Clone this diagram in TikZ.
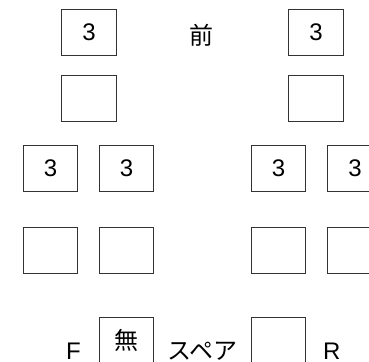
\documentclass[tikz,border=0pt]{standalone}
\usepackage{fontspec}
\setmainfont{Liberation Sans}
\newfontfamily\jpfont{Noto Sans CJK JP}
\begin{document}
\begin{tikzpicture}[x=1pt,y=-1pt,
  seat/.style={draw=black!80,line width=0.8pt,rectangle,minimum width=54.5pt,minimum height=46pt,inner sep=0pt,font=\fontsize{24pt}{28pt}\selectfont},
  jp/.style={inner sep=0pt,font=\jpfont\fontsize{24pt}{28pt}\selectfont},
  lat/.style={inner sep=0pt,font=\fontsize{24pt}{28pt}\selectfont}]
\useasboundingbox (0,0) rectangle (369,361);
\clip (0,0) rectangle (369,361);
% row 1
\node[seat] (a1) at (89,32) {3};
\node[seat] (b1) at (316,32) {3};
\node[jp] (mae) at (201.5,35) {前};
% row 2
\node[seat] (a2) at (89,98.5) {};
\node[seat] (b2) at (316,98.5) {};
% row 3
\node[seat] (c1) at (50.5,168.5) {3};
\node[seat] (c2) at (126.5,168.5) {3};
\node[seat] (c3) at (278.5,168.5) {3};
\node[seat] (c4) at (355,168.5) {3};
% row 4
\node[seat] (d1) at (50.5,250.5) {};
\node[seat] (d2) at (126.5,250.5) {};
\node[seat] (d3) at (278.5,250.5) {};
\node[seat] (d4) at (355,250.5) {};
% row 5
\node[seat,font=\jpfont\fontsize{24pt}{28pt}\selectfont] (e1) at (126.5,340.5) {無};
\node[seat] (e2) at (278.5,340.5) {};
\node[lat,anchor=base] (f) at (73.5,359) {F};
\node[jp,anchor=base] (spare) at (202.5,359) {スペア};
\node[lat,anchor=base] (r) at (331.7,359) {R};
\end{tikzpicture}
\end{document}
